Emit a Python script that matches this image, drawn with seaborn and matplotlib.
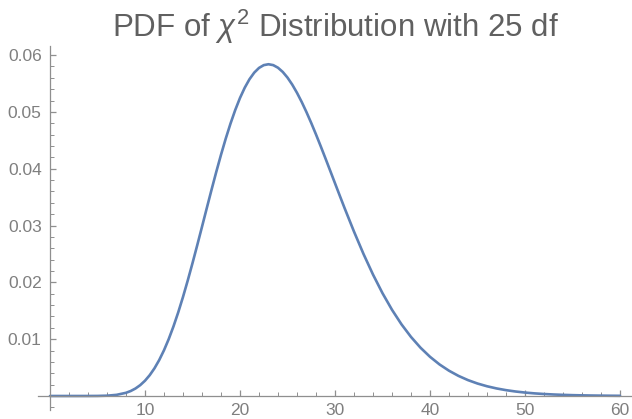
import matplotlib
matplotlib.use("Agg")
import matplotlib.pyplot as plt
from matplotlib.ticker import MultipleLocator, FixedLocator
import seaborn as sns
import pandas as pd

# Values (chi-square pdf, 25 df)
x_vals = [
    0, 1, 2, 3, 4, 5, 6, 7, 8, 8.5, 9, 9.5, 10, 10.5, 11, 11.5, 12, 12.5,
    13, 13.5, 14, 14.5, 15, 15.5, 16, 16.5, 17, 17.5, 18, 18.5, 19, 19.5,
    20, 20.5, 21, 21.5, 22, 22.5, 23, 23.5, 24, 24.5, 25, 25.5, 26, 26.5,
    27, 27.5, 28, 28.5, 29, 29.5, 30, 30.5, 31, 32, 33, 34, 35, 36, 37,
    38, 39, 40, 41, 42, 43, 44, 45, 46, 47, 48, 49, 50, 51, 52, 53, 54,
    55, 56, 57, 58, 59, 60,
]
pdf_vals = [
    0.0, 0.0, 0.0000001, 0.0000005, 0.0000026, 0.0000113, 0.000056,
    0.000199, 0.000561, 0.000878, 0.001320, 0.001914, 0.002687, 0.003669,
    0.004878, 0.006334, 0.008047, 0.010022, 0.012254, 0.014728, 0.017427,
    0.020322, 0.023373, 0.026539, 0.029775, 0.033038, 0.036268, 0.039423,
    0.042448, 0.045302, 0.047940, 0.050337, 0.052454, 0.054263, 0.055754,
    0.056915, 0.057740, 0.058232, 0.058390, 0.058234, 0.057775, 0.057037,
    0.056039, 0.054804, 0.053359, 0.051735, 0.049951, 0.048044, 0.046032,
    0.043943, 0.041799, 0.039626, 0.037440, 0.035263, 0.033107, 0.028932,
    0.024996, 0.021373, 0.018092, 0.015170, 0.012608, 0.010393, 0.008499,
    0.006898, 0.005556, 0.004447, 0.003536, 0.002793, 0.002194, 0.001713,
    0.001331, 0.001028, 0.000791, 0.000605, 0.000460, 0.000349, 0.000264,
    0.000199, 0.000148, 0.000111, 0.000083, 0.000062, 0.000045, 0.000033,
]
x_ticks = [10, 20, 30, 40, 50, 60]
y_ticks = [0.01, 0.02, 0.03, 0.04, 0.05, 0.06]
title_text = r"PDF of $\chi^2$ Distribution with 25 df"

sns.set_style("white")
plt.rcParams["font.family"] = ["Liberation Sans", "DejaVu Sans"]
plt.rcParams["mathtext.fontset"] = "custom"
plt.rcParams["mathtext.rm"] = "Liberation Sans"
plt.rcParams["mathtext.it"] = "Liberation Sans:italic"

df = pd.DataFrame({"x": x_vals, "pdf": pdf_vals})

fig = plt.figure(figsize=(6.32, 4.19), dpi=100)
ax = fig.add_axes([38 / 632, (419 - 410.2) / 419, 594 / 632, (410.2 - 46) / 419])

sns.lineplot(data=df, x="x", y="pdf", ax=ax, color="#5E81B5", linewidth=1.9)

ax.set_xlim(-1.26, 61.26)
ax.set_ylim(-0.0025, 0.0616)

axis_col = "#8f8f8f"
for s in ["top", "right"]:
    ax.spines[s].set_visible(False)
ax.spines["left"].set_position(("data", 0))
ax.spines["bottom"].set_position(("data", 0))
ax.spines["left"].set_color(axis_col)
ax.spines["bottom"].set_color(axis_col)
ax.spines["left"].set_linewidth(0.9)
ax.spines["bottom"].set_linewidth(0.9)

ax.xaxis.set_major_locator(FixedLocator(x_ticks))
ax.yaxis.set_major_locator(FixedLocator(y_ticks))
ax.xaxis.set_minor_locator(MultipleLocator(2))
ax.yaxis.set_minor_locator(MultipleLocator(0.002))
ax.set_xticklabels([str(t) for t in x_ticks])
ax.set_yticklabels([f"{t:.2f}" for t in y_ticks])

ax.tick_params(axis="both", which="major", direction="in", length=4.5, width=0.9,
               color=axis_col, labelcolor="#7f7f7f", labelsize=12.5)
ax.tick_params(axis="both", which="minor", direction="in", length=2.6, width=0.7,
               color=axis_col)
ax.tick_params(axis="x", which="major", pad=5)
ax.tick_params(axis="y", which="major", pad=6)
ax.tick_params(axis="x", which="both", bottom=True, top=False)
ax.tick_params(axis="y", which="both", left=True, right=False)

ax.set_xlabel("")
ax.set_ylabel("")
ax.set_title(title_text, fontsize=22.5, color="#606060", pad=2)
ax.grid(False)

fig.savefig("out.png", dpi=100)
